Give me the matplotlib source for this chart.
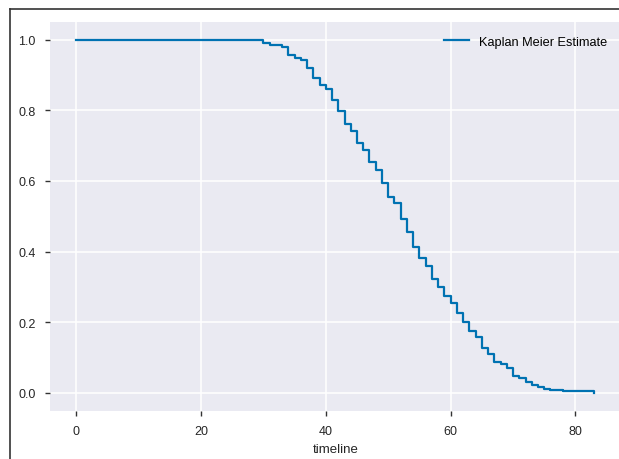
import matplotlib
matplotlib.use('Agg')
from matplotlib import pyplot as plt
from matplotlib.lines import Line2D

# Kaplan Meier survival steps
timeline = [0, 30, 31, 33, 34, 35, 36, 37, 38, 39, 40, 41, 42, 43, 44, 45, 46, 47, 48,
	49, 50, 51, 52, 53, 54, 55, 56, 57, 58, 59, 60, 61, 62, 63, 64, 65, 66, 67,
	68, 69, 70, 71, 72, 73, 74, 75, 76, 77, 78, 83]
survival = [1.0, 0.991, 0.985, 0.979, 0.956, 0.947, 0.941, 0.920, 0.890, 0.870, 0.859,
	0.829, 0.797, 0.762, 0.740, 0.708, 0.687, 0.653, 0.630, 0.595, 0.555, 0.538,
	0.493, 0.454, 0.413, 0.381, 0.359, 0.322, 0.299, 0.273, 0.253, 0.225, 0.201,
	0.175, 0.159, 0.126, 0.110, 0.088, 0.082, 0.071, 0.047, 0.041, 0.030, 0.023,
	0.016, 0.011, 0.0085, 0.007, 0.006, 0.0]
xticks = [0, 20, 40, 60, 80]
yticks = [0.0, 0.2, 0.4, 0.6, 0.8, 1.0]
lineColor = '#0072B2'

plt.rcParams['font.family'] = ['Liberation Sans', 'DejaVu Sans']
fig = plt.figure(figsize=(6.19, 4.60), dpi=100)
ax = fig.add_axes([50/619, 48.5/460, 571.6/619, 388.6/460])
ax.set_facecolor('#EAEAF2')
for s in ax.spines.values():
	s.set_visible(False)
ax.grid(True, color='white', linewidth=1.1)
ax.set_axisbelow(True)

ax.step(timeline, survival, where='post', color=lineColor, linewidth=1.6, label='Kaplan Meier Estimate')

ax.set_xlim(-4.2, 87.4)
ax.set_ylim(-0.05, 1.05)
ax.set_xticks(xticks)
ax.set_yticks(yticks)
ax.set_yticklabels(['%.1f' % v for v in yticks])
ax.tick_params(axis='both', length=3.5, width=1, color='#333333', pad=7, labelsize=9, labelcolor='#262626')
ax.set_xlabel('timeline', fontsize=9.5, color='#262626', labelpad=4)
ax.legend(loc='upper right', frameon=False, fontsize=9.2, borderaxespad=0.7)

# screenshot border around the figure
fig.add_artist(Line2D([10/619, 10/619], [0, 1 - 10/460], transform=fig.transFigure, color='#333333', linewidth=1.2))
fig.add_artist(Line2D([10/619, 1], [1 - 10/460, 1 - 10/460], transform=fig.transFigure, color='#333333', linewidth=1.2))

fig.savefig('out.png', dpi=100)
